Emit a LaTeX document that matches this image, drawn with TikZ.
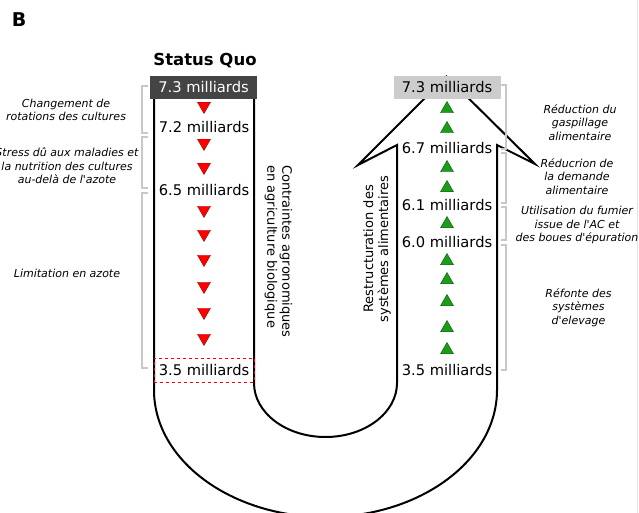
\documentclass[tikz,border=0pt]{standalone}
\usepackage{fontspec}
\setmainfont{DejaVu Sans}
\usetikzlibrary{shapes.geometric, calc}
\definecolor{brkgray}{HTML}{C8C8C8}
\definecolor{leaf}{HTML}{1A9E1A}
\definecolor{darkbox}{HTML}{444444}
\definecolor{lightbox}{HTML}{CCCCCC}

\begin{document}
\begin{tikzpicture}[x=1pt, y=-1pt,
    val/.style={font=\fontsize{14.7}{17}\selectfont, anchor=base, inner sep=0pt},
    topbox/.style={minimum width=107pt, minimum height=23pt, inner sep=0pt, font=\fontsize{14.7}{17}\selectfont},
    note/.style={font=\fontsize{11}{13.5}\selectfont\itshape, align=center, inner sep=0pt},
    side/.style={font=\fontsize{13}{15}\selectfont, inner sep=0pt},
    tri/.style={regular polygon, regular polygon sides=3, minimum size=15pt, inner sep=0pt, line width=0.4pt},
    tridown/.style={tri, shape border rotate=180, fill=red, draw=red!60!black},
    triup/.style={tri, fill=leaf, draw=leaf!50!black},
    brk/.style={draw=brkgray, line width=1.1pt},
    flow/.style={draw=black, line width=2pt, line join=miter}
]
    \useasboundingbox (0,0) rectangle (639,513);
    \clip (0,0) rectangle (639,513);

    \draw[flow] (154,99) -- (154,390)
        arc[start angle=180, end angle=0, x radius=171.5, y radius=127]
        -- (497,145) -- (535,164) -- (446.5,76.5) -- (358,165) -- (397,145) -- (397,383)
        arc[start angle=0, end angle=180, x radius=71.5, y radius=54]
        -- (254,99);
    \draw[draw=black!12, line width=1pt] (637,0) -- (637,513);

    \node[font=\fontsize{19}{22}\selectfont\bfseries] (panel) at (19,20) {B};
    \node[font=\fontsize{16.5}{20}\selectfont\bfseries, anchor=base] (title) at (205,66) {Status Quo};

    \node[topbox, fill=darkbox, text=white] (sq) at (203.5,87.5) {7.3 milliards};
    \node[topbox, fill=lightbox] (goal) at (447,87.5) {7.3 milliards};
    \node[topbox, minimum width=100pt, minimum height=24pt, draw=red, dashed, line width=0.6pt] (lo) at (204,370) {3.5 milliards};

    \node[val] (v72) at (204,133) {7.2 milliards};
    \node[val] (v65) at (204,195) {6.5 milliards};
    \node[val] (v67) at (447,154) {6.7 milliards};
    \node[val] (v61) at (447,210) {6.1 milliards};
    \node[val] (v60) at (447,247) {6.0 milliards};
    \node[val] (v35) at (447,375) {3.5 milliards};

    \foreach \y [count=\i] in {106,143,167,210,234,259,286,312,338}
        \node[tridown] (r\i) at (204,\y) {};
    \foreach \y [count=\i] in {109,129,168,188,224,261,280,302,328,350}
        \node[triup] (g\i) at (447,\y) {};

    \node[side, rotate=-90, anchor=west, align=left] (cab) at (278.5,165) {Contraintes agronomiques\\en agriculture biologique};
    \node[side, rotate=90, align=center] (rsa) at (377,249) {Restructuration des\\systèmes alimentaires};

    \foreach \a/\b in {86/133, 137/188, 193/368}
        \draw[brk] (148,\a) -| (142,\b) -- (148,\b);
    \foreach \a/\b in {85/149, 153/203, 207/240, 245/370}
        \draw[brk] (501,\a) -| (506,\b) -- (501,\b);

    \node[note] (n1) at (66,110) {Changement de\\rotations des cultures};
    \node[note] (n2) at (67,166) {Stress dû aux maladies et\\la nutrition des cultures\\au-delà de l\textquotesingle azote};
    \node[note] (n3) at (67,273) {Limitation en azote};
    \node[note] (n4) at (580,122.5) {Réduction du\\gaspillage\\alimentaire};
    \node[note] (n5) at (577,176.5) {Réducrion de\\la demande\\alimentaire};
    \node[note] (n6) at (577,225) {Utilisation du fumier\\issue de l\textquotesingle AC et\\des boues d\textquotesingle épuration};
    \node[note] (n7) at (578.5,307.5) {Réfonte des\\systèmes\\d\textquotesingle elevage};
\end{tikzpicture}
\end{document}
